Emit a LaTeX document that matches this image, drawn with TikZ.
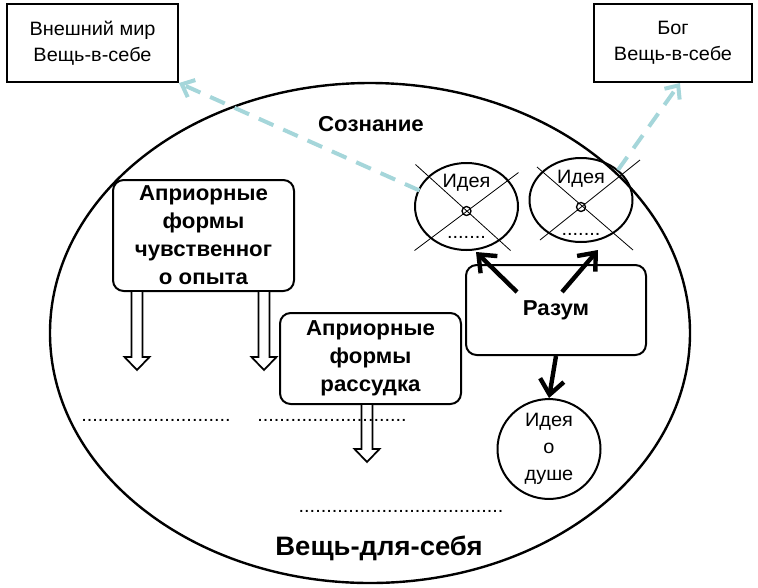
\documentclass[tikz,border=0pt]{standalone}
\usepackage{fontspec}
\setmainfont{Liberation Sans}[FakeStretch=1.03]
\usetikzlibrary{arrows.meta,calc,shapes.geometric}
\definecolor{cyanline}{RGB}{165,214,218}
\begin{document}
\begin{tikzpicture}[x=0.75pt,y=-0.75pt,
  reg/.style={font=\fontsize{14.5}{19.5}\selectfont, align=center},
  bld/.style={font=\fontsize{16.2}{21}\selectfont\bfseries, align=center},
  outerbox/.style={draw, line width=1.5pt, inner sep=0pt, reg},
  rbox/.style={draw, line width=1.5pt, rounded corners=8pt, inner sep=0pt, bld},
  ideaell/.style={draw, ellipse, line width=1.5pt, inner sep=0pt},
  crossline/.style={line width=0.6pt},
  dotrow/.style={reg, inner sep=0pt},
  thickarrow/.style={line width=3.3pt, -{Straight Barb[length=11pt,width=18pt,line width=3.3pt]}},
  cyanarrow/.style={cyanline, line width=3pt, dash pattern=on 12pt off 8pt, -{Straight Barb[length=8pt,width=14pt,line width=3pt]}},
  pics/hollowarrow/.style={code={
    \draw[line width=1.3pt, fill=white] (-5.5,0) -- (-5.5,#1-13) -- (-12.5,#1-13) -- (0,#1) -- (12.5,#1-13) -- (5.5,#1-13) -- (5.5,0);}}
]
\useasboundingbox (0,0) rectangle (758,587);

% big ellipse
\node[draw, ellipse, line width=1.8pt, minimum width=640*0.75pt, minimum height=500*0.75pt, inner sep=0pt] (world) at (370,333) {};

% outer boxes
\node[outerbox, minimum width=171*0.75pt, minimum height=78*0.75pt] (ext) at (92.5,43) {Внешний мир\\Вещь-в-себе};
\node[outerbox, minimum width=158*0.75pt, minimum height=78*0.75pt] (god) at (673,43) {Бог\\Вещь-в-себе};

% labels
\node[bld] (cons) at (371,124) {Сознание};
\node[font=\fontsize{20}{24}\selectfont\bfseries] (self) at (379,548) {Вещь-для-себя};

% a priori boxes
\node[rbox, minimum width=181*0.75pt, minimum height=111*0.75pt] (b1) at (203.5,235.5) {Априорные\\формы\\чувственног\\о опыта};
\node[rbox, minimum width=181*0.75pt, minimum height=91*0.75pt] (b2) at (370.5,358.5) {Априорные\\формы\\рассудка};

% hollow arrows
\pic at ($(b1.south)+(-66.5,0)$) {hollowarrow=78};
\pic at ($(b1.south)+(60.5,0)$) {hollowarrow=78};
\pic at ($(b2.south)+(-3.5,0)$) {hollowarrow=57};

% dotted rows
\node[dotrow] (d1) at (156,420) {...........................};
\node[dotrow] (d2) at (332,420) {...........................};
\node[dotrow] (d3) at (401,511) {.....................................};

% Razum
\node[rbox, minimum width=180*0.75pt, minimum height=90*0.75pt] (razum) at (556,310) {Разум};

% idea ellipses
\node[ideaell, minimum width=103*0.75pt, minimum height=87*0.75pt] (i1) at (466.5,206.5) {};
\node[ideaell, minimum width=103*0.75pt, minimum height=84*0.75pt] (i2) at (581,200) {};
\draw[crossline] ($(i1)+(-51,-42)$) -- ($(i1)+(44,44)$);
\draw[crossline] ($(i1)+(52,-34)$) -- ($(i1)+(-52,44)$);
\draw[crossline] ($(i2)+(-44,-33)$) -- ($(i2)+(52,50)$);
\draw[crossline] ($(i2)+(59,-40)$) -- ($(i2)+(-41,40)$);
\node[draw, circle, line width=1pt, minimum size=9*0.75pt, inner sep=0pt] (o1) at ($(i1)+(0,4.5)$) {};
\node[draw, circle, line width=1pt, minimum size=9*0.75pt, inner sep=0pt] (o2) at ($(i2)+(0,7)$) {};
\node[reg] (t1) at ($(i1)+(0,-24)$) {Идея};
\node[reg] (t2) at ($(i2)+(0,-21)$) {Идея};
\node[reg, inner sep=0pt] (e1) at ($(i1)+(0,31)$) {.......};
\node[reg, inner sep=0pt] (e2) at ($(i2)+(0,34)$) {.......};

% soul
\node[draw, ellipse, line width=1.5pt, minimum width=103*0.75pt, minimum height=92*0.75pt, inner sep=0pt, reg, font=\fontsize{14.5}{20}\selectfont] (soul) at (549,449) {Идея\\о\\душе};

% thick arrows
\draw[thickarrow] ($(razum)+(-39,-18)$) -- ($(i1)+(9.5,45.5)$);
\draw[thickarrow] ($(razum)+(6,-18)$) -- ($(i2)+(17,50)$);
\draw[thickarrow] (razum.south) -- (soul.north);

% cyan dashed arrows
\draw[cyanarrow] ($(i1)+(-47,-16)$) -- (ext.south east);
\draw[cyanarrow] ($(i2)+(37,-30)$) -- ($(god.south)+(7,0)$);
\end{tikzpicture}
\end{document}
